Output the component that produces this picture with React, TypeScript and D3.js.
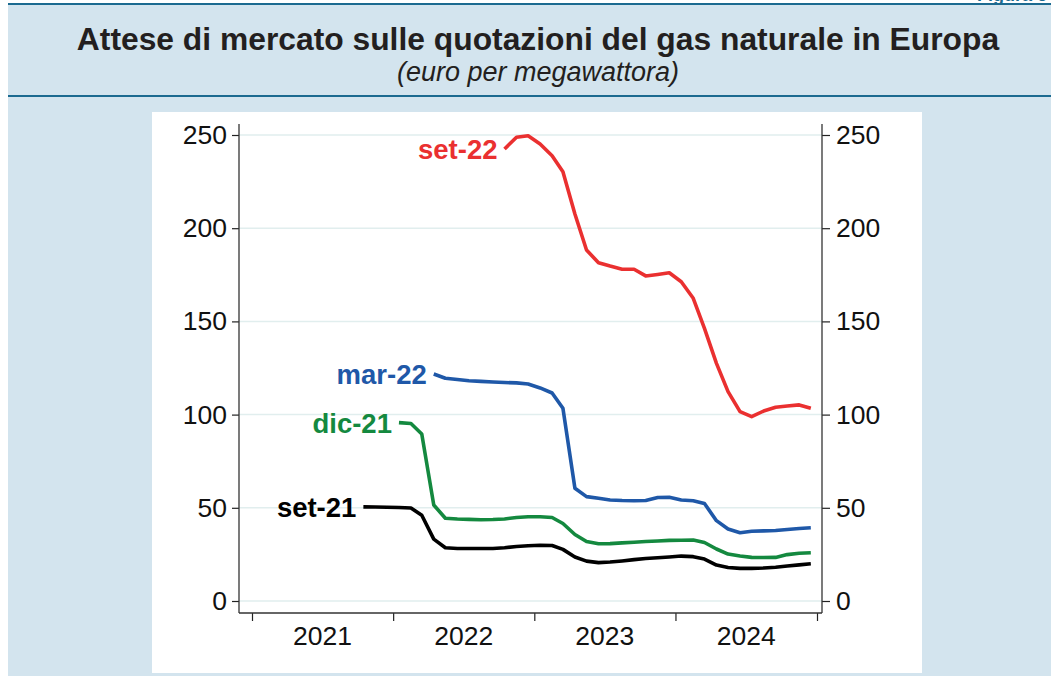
import { useEffect, useRef } from 'react';
import * as d3 from 'd3';

// futures curves (euro/MWh), monthly contracts up to Dec 2024
const set21Start = '2021-10';
const set21 = [50.5, 50.4, 50.3,
  50.2, 49.9, 46.0, 33.2, 28.6, 28.2, 28.2, 28.2, 28.2, 28.6, 29.2, 29.6,
  29.9, 29.8, 27.7, 23.6, 21.4, 20.6, 20.9, 21.5, 22.2, 22.8, 23.2, 23.6,
  24.1, 23.8, 22.5, 19.3, 18.0, 17.5, 17.5, 17.7, 18.1, 18.8, 19.4, 20.0];

const dic21Start = '2022-01';
const dic21 = [95.7, 95.2, 89.6, 51.5, 44.4, 44.0, 43.8, 43.6, 43.7, 44.0, 44.8, 45.2,
  45.2, 44.8, 41.6, 35.7, 31.9, 30.7, 30.8, 31.2, 31.5, 31.9, 32.2, 32.5,
  32.6, 32.7, 31.4, 27.9, 25.2, 24.1, 23.4, 23.3, 23.4, 24.9, 25.6, 25.9];

const mar22Start = '2022-04';
const mar22 = [121.8, 119.5, 118.8, 118.2, 117.8, 117.5, 117.2, 117.0, 116.4,
  114.3, 111.6, 103.4, 60.5, 56.0, 55.1, 54.2, 53.9, 53.8, 53.9, 55.5, 55.6,
  54.2, 53.8, 52.3, 43.1, 38.6, 36.6, 37.4, 37.6, 37.8, 38.4, 38.9, 39.3];

const set22Start = '2022-10';
const set22 = [242.5, 248.8, 249.6,
  245.2, 238.9, 230.3, 207.6, 188.3, 181.5, 179.7, 178.0, 178.0, 174.4, 175.2, 176.1,
  171.3, 162.4, 146.3, 127.5, 112.3, 101.6, 98.9, 101.9, 103.9, 104.6, 105.2, 103.4];

const yTicks = [0, 50, 100, 150, 200, 250];
const years = [2021, 2022, 2023, 2024];

const COLORS: Record<string, string> = {
  'set-21': '#000000',
  'dic-21': '#14893f',
  'mar-22': '#1f58a8',
  'set-22': '#ea3030'
};

const FONT = '"Liberation Sans", Arial, Helvetica, sans-serif';

// month string -> mid month date, then following months
const toPoints = (start: string, values: number[]) => {
  const [y, m] = start.split('-').map(Number);
  return values.map((v, i) => ({ date: new Date(y, m - 1 + i, 16), value: v }));
};

const App = () => {
  const svgRef = useRef<SVGSVGElement>(null);

  useEffect(() => {
    const svg = d3.select(svgRef.current);
    svg.selectAll('*').remove();

    const W = 1051, H = 676;

    // page panel
    svg.append('rect').attr('x', 8).attr('y', 4).attr('width', W - 8).attr('height', H - 4).attr('fill', '#d3e4ee');
    svg.append('line').attr('x1', 8).attr('x2', W).attr('y1', 4).attr('y2', 4).attr('stroke', '#1b6a90').attr('stroke-width', 2);
    svg.append('line').attr('x1', 8).attr('x2', W).attr('y1', 96).attr('y2', 96).attr('stroke', '#1b6a90').attr('stroke-width', 2);

    // figure number, cut by the page top like in the source
    svg.append('text')
      .attr('x', 1047).attr('y', 1)
      .attr('text-anchor', 'end')
      .attr('font-family', FONT).attr('font-weight', 'bold').attr('font-size', 18)
      .attr('fill', '#1b6a90')
      .text('Figura 6');

    svg.append('text')
      .attr('x', 538).attr('y', 50)
      .attr('text-anchor', 'middle')
      .attr('font-family', FONT).attr('font-weight', 'bold').attr('font-size', 31.8)
      .attr('fill', '#231f20')
      .text('Attese di mercato sulle quotazioni del gas naturale in Europa');

    svg.append('text')
      .attr('x', 538).attr('y', 81)
      .attr('text-anchor', 'middle')
      .attr('font-family', FONT).attr('font-style', 'italic').attr('font-size', 27)
      .attr('fill', '#231f20')
      .text('(euro per megawattora)');

    // white graph region
    svg.append('rect').attr('x', 152).attr('y', 112).attr('width', 770).attr('height', 561).attr('fill', '#ffffff');

    const left = 239, right = 822, top = 124, bottom = 613;

    const x = d3.scaleTime()
      .domain([new Date(2021, 0, 1), new Date(2025, 0, 1)])
      .range([252, 817]);

    const y = d3.scaleLinear()
      .domain([0, 250])
      .range([601, 135]);

    // grid
    svg.append('g')
      .selectAll('line')
      .data(yTicks)
      .join('line')
      .attr('x1', left).attr('x2', right)
      .attr('y1', d => y(d)).attr('y2', d => y(d))
      .attr('stroke', '#e1eeee').attr('stroke-width', 1.5);

    const styleAxis = (g: any) => {
      g.selectAll('.domain').remove();
      g.selectAll('.tick line').attr('stroke', '#222').attr('stroke-width', 1.2);
      g.selectAll('.tick text')
        .attr('font-family', FONT).attr('font-size', 26.5).attr('fill', '#111');
    };

    svg.append('g')
      .attr('transform', `translate(${left},0)`)
      .call(d3.axisLeft(y).tickValues(yTicks).tickSize(7).tickPadding(5).tickFormat(d3.format('d')))
      .call(styleAxis);

    svg.append('g')
      .attr('transform', `translate(${right},0)`)
      .call(d3.axisRight(y).tickValues(yTicks).tickSize(8).tickPadding(6).tickFormat(d3.format('d')))
      .call(styleAxis);

    // year boundary ticks
    svg.append('g')
      .attr('transform', `translate(0,${bottom})`)
      .call(d3.axisBottom(x).tickValues(years.concat([2025]).map(yy => new Date(yy, 0, 1))).tickSize(8).tickFormat(() => ''))
      .call(styleAxis);

    // year labels at mid year
    svg.append('g')
      .attr('transform', `translate(0,${bottom})`)
      .call(d3.axisBottom(x).tickValues(years.map(yy => new Date(yy, 6, 1))).tickSize(0).tickPadding(13).tickFormat(d3.timeFormat('%Y') as any))
      .call(styleAxis);

    // axis lines
    const axisColor = '#333';
    svg.append('line').attr('x1', left).attr('x2', left).attr('y1', top).attr('y2', bottom).attr('stroke', axisColor).attr('stroke-width', 1.3);
    svg.append('line').attr('x1', right).attr('x2', right).attr('y1', top).attr('y2', bottom).attr('stroke', axisColor).attr('stroke-width', 1.3);
    svg.append('line').attr('x1', left).attr('x2', right).attr('y1', bottom).attr('y2', bottom).attr('stroke', axisColor).attr('stroke-width', 1.3);

    const series = [
      { name: 'set-21', points: toPoints(set21Start, set21) },
      { name: 'dic-21', points: toPoints(dic21Start, dic21) },
      { name: 'mar-22', points: toPoints(mar22Start, mar22) },
      { name: 'set-22', points: toPoints(set22Start, set22) }
    ];

    const line = d3.line<{ date: Date; value: number }>()
      .x(d => x(d.date))
      .y(d => y(d.value));

    series.forEach(s => {
      svg.append('path')
        .datum(s.points)
        .attr('fill', 'none')
        .attr('stroke', COLORS[s.name])
        .attr('stroke-width', 3.6)
        .attr('stroke-linejoin', 'round')
        .attr('d', line);

      const first = s.points[0];
      svg.append('text')
        .attr('x', x(first.date) - 7)
        .attr('y', y(first.value))
        .attr('dy', '0.36em')
        .attr('text-anchor', 'end')
        .attr('font-family', FONT).attr('font-weight', 'bold').attr('font-size', 27.5)
        .attr('fill', COLORS[s.name])
        .text(s.name);
    });
  }, []);

  return (
    <svg
      ref={svgRef}
      width={1051}
      height={676}
      style={{ position: 'absolute', left: 0, top: 0, display: 'block' }}
    />
  );
};

export default App;
